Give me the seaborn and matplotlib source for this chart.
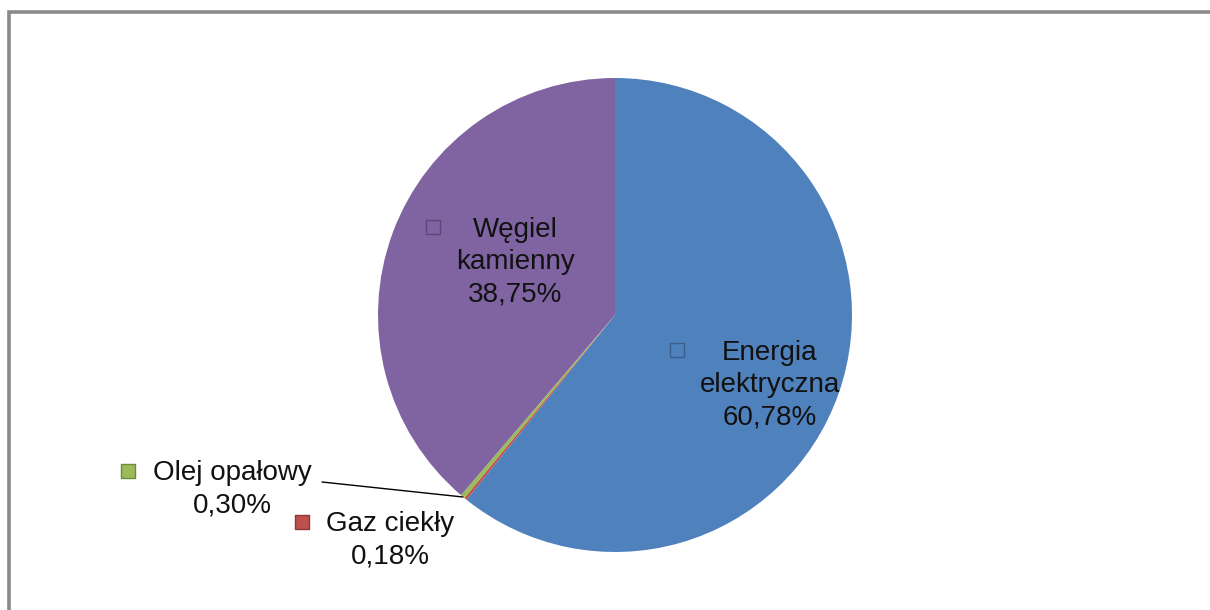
import matplotlib
matplotlib.use("Agg")
import matplotlib.pyplot as plt
import seaborn as sns
from matplotlib.patches import Rectangle

# data (clockwise from 12 o'clock)
labels = ["Energia\nelektryczna", "Gaz ciekły", "Olej opałowy", "Węgiel\nkamienny"]
shares = [60.78, 0.18, 0.30, 38.75]
share_text = ["60,78%", "0,18%", "0,30%", "38,75%"]
colors = ["#4F81BD", "#C0504D", "#9BBB59", "#8064A2"]
edges = ["#3A5F8C", "#8C3836", "#71893F", "#5C4878"]

sns.set_style("white")
plt.rcParams['font.family'] = ['Liberation Sans', 'DejaVu Sans']

W, H = 1210, 610
fig = plt.figure(figsize=(W / 100, H / 100), dpi=100)
ax = fig.add_axes([0, 0, 1, 1])

ax.pie(shares, colors=colors, startangle=90, counterclock=False,
       center=(615, H - 315), radius=237, frame=True,
       wedgeprops=dict(linewidth=0))
ax.set_xlim(0, W)
ax.set_ylim(0, H)
ax.set_aspect("equal")
ax.axis("off")

# outer frame (only top and left edges visible in the crop)
ax.add_patch(Rectangle((9, -20), W + 40, H - 12 + 20, fill=False,
                       edgecolor="#8A8A8A", linewidth=2.6, clip_on=False))

fs = 20
# label blocks: (center x, center y in image px), marker (x, y)
blocks = [
    (770, 385, 677, 350),
    (390, 540, 302, 522),
    (232, 489, 128, 471),
    (515, 262, 433, 227),
]
for lab, txt, (cx, cy, mx, my), c, ec in zip(labels, share_text, blocks, colors, edges):
    ax.text(cx, H - cy, lab + "\n" + txt, ha="center", va="center",
            multialignment="center", fontsize=fs, color="#111111", linespacing=1.32)
    ax.scatter([mx], [H - my], marker="s", s=95, color=c, edgecolor=ec,
               linewidth=1.0, zorder=5)

# leader line for the oil slice
ax.plot([322, 463], [H - 482, H - 497], color="black", linewidth=1.0)

fig.savefig("out.png", dpi=100)
